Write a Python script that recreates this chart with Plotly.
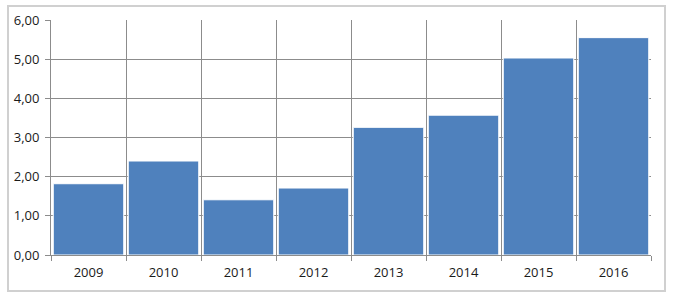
import plotly.graph_objects as go

years = ["2009", "2010", "2011", "2012", "2013", "2014", "2015", "2016"]
values = [1.82, 2.40, 1.41, 1.71, 3.26, 3.57, 5.03, 5.55]
y_ticks = [0, 1, 2, 3, 4, 5, 6]

W, H = 680, 300
ml, mr, mt, mb = 51, 29, 20, 45
pw, ph = W - ml - mr, H - mt - mb

fig = go.Figure(go.Bar(
    x=years, y=values,
    marker=dict(color="#4F81BD", line=dict(color="white", width=1)),
))

def px2paper_x(px):
    return (px - ml) / pw

def px2paper_y(py):
    return (H - mb - py) / ph

fig.add_shape(type="rect", xref="paper", yref="paper",
              x0=px2paper_x(8), x1=px2paper_x(665),
              y0=px2paper_y(291), y1=px2paper_y(6),
              line=dict(color="#D0D0D0", width=2), layer="below")

fig.update_layout(
    width=W, height=H,
    margin=dict(l=ml, r=mr, t=mt, b=mb),
    paper_bgcolor="white", plot_bgcolor="white",
    separators=", ",
    bargap=0.06,
    showlegend=False,
    font=dict(family="Open Sans, Liberation Sans, sans-serif", size=13, color="#1a1a1a"),
    xaxis=dict(
        type="category", tickson="boundaries", showgrid=True,
        gridcolor="#8C8C8C", gridwidth=1,
        ticks="outside", ticklen=5, tickcolor="#8C8C8C",
        showline=True, linecolor="#8C8C8C", mirror=False,
        ticklabelstandoff=5,
    ),
    yaxis=dict(
        range=[0, 6], tickvals=y_ticks, tickformat=".2f",
        showgrid=True, gridcolor="#8C8C8C", gridwidth=1,
        ticks="outside", ticklen=5, tickcolor="#8C8C8C",
        showline=True, linecolor="#8C8C8C",
        zeroline=False, ticklabelstandoff=3,
    ),
)

fig.write_html("out.html")
